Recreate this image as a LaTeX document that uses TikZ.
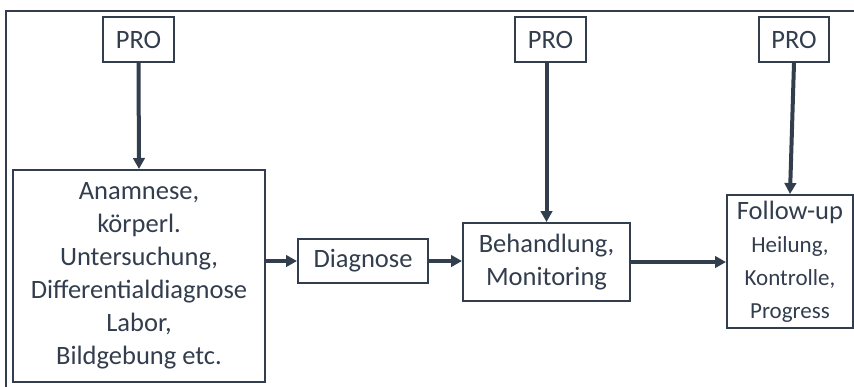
\documentclass[tikz,border=0pt]{standalone}
\usepackage{fontspec}
\setmainfont{Carlito}
\usetikzlibrary{arrows.meta}
\definecolor{ink}{HTML}{323D4D}
\tikzset{
  box/.style={draw=ink, line width=2pt, text=ink, inner sep=0pt, align=center,
    font=\fontsize{26.5}{33}\selectfont},
  flow/.style={draw=ink, line width=4pt, -{Triangle[length=11pt,width=11.5pt]}},
  frameline/.style={draw=ink, line width=1.8pt}
}
\newcommand{\subsize}{\fontsize{23}{30}\selectfont}
\begin{document}
\begin{tikzpicture}[x=1pt,y=-1pt]
\useasboundingbox (0,0) rectangle (854,386);
% outer frame, open to the right and bottom
\coordinate (fbl) at (6,390);
\coordinate (ftl) at (6,11);
\coordinate (ftr) at (858,11);
\draw[frameline] (fbl) -- (ftl) -- (ftr);

% boxes
\node[box, minimum width=71pt, minimum height=45pt] (pro1) at (138.5,39.5) {PRO};
\node[box, minimum width=71pt, minimum height=45pt] (pro2) at (550.5,39.5) {PRO};
\node[box, minimum width=70pt, minimum height=45pt] (pro3) at (794,39.5) {PRO};
\node[box, minimum width=252pt, minimum height=212pt] (anam) at (139,276)
  {Anamnese,\\körperl.\\Untersuchung,\\Differentialdiagnose\\Labor,\\Bildgebung etc.};
\node[box, minimum width=130pt, minimum height=44pt] (diag) at (363,261) {Diagnose};
\node[box, minimum width=167pt, minimum height=78pt] (beh) at (546.5,262)
  {Behandlung,\\Monitoring};
\node[box, minimum width=126pt, minimum height=133pt] (fu) at (790,261.5)
  {Follow-up\\ \subsize Heilung,\\ \subsize Kontrolle,\\ \subsize Progress};

% connectors
\draw[flow] (pro1.south) -- (anam.north);
\draw[flow] (diag.west -| anam.east) -- (diag.west);
\draw[flow] (diag.east) -- (diag.east -| beh.west);
\draw[flow] (beh.north |- pro2.south) -- (beh.north);
\draw[flow] (beh.east) -- (beh.east -| fu.west);
\draw[flow] (pro3.south) -- (fu.north);
\end{tikzpicture}
\end{document}
